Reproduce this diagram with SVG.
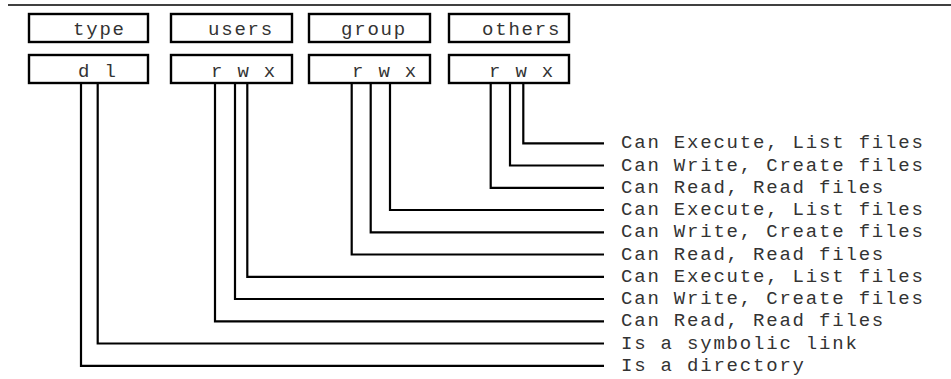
<svg xmlns="http://www.w3.org/2000/svg" width="951" height="379" viewBox="0 0 951 379">
<style>
.box{fill:#fff;stroke:#000;stroke-width:2.4}
.t{font-family:"Liberation Mono","Courier New",monospace;font-size:19px;letter-spacing:1.8px;fill:#333}
.c{fill:none;stroke:#000;stroke-width:2.2}
</style>
<rect width="951" height="379" fill="#fff"/>
<line x1="8" y1="5" x2="951" y2="5" stroke="#000" stroke-width="1.5"/>
<g id="type-head"><rect class="box" x="29" y="14" width="119" height="28"/><text class="t" x="73" y="35">type</text></g>
<g id="users-head"><rect class="box" x="171" y="14" width="121" height="28"/><text class="t" x="208" y="35">users</text></g>
<g id="group-head"><rect class="box" x="309" y="14" width="121" height="28"/><text class="t" x="341" y="35">group</text></g>
<g id="others-head"><rect class="box" x="449" y="14" width="120" height="28"/><text class="t" x="482" y="35">others</text></g>
<g id="type-bits"><rect class="box" x="29" y="55" width="119" height="28"/><text class="t" x="78" y="77">d l</text></g>
<g id="users-bits"><rect class="box" x="171" y="55" width="121" height="28"/><text class="t" x="211" y="77">r w x</text></g>
<g id="group-bits"><rect class="box" x="309" y="55" width="121" height="28"/><text class="t" x="352" y="77">r w x</text></g>
<g id="others-bits"><rect class="box" x="449" y="55" width="120" height="28"/><text class="t" x="489" y="77">r w x</text></g>
<g id="connectors">
<polyline class="c" points="523.3,84 523.3,143.3 604,143.3"/>
<polyline class="c" points="510,84 510,165.5 604,165.5"/>
<polyline class="c" points="490.7,84 490.7,187.8 604,187.8"/>
<polyline class="c" points="390,84 390,210 604,210"/>
<polyline class="c" points="370.7,84 370.7,232.3 604,232.3"/>
<polyline class="c" points="351.7,84 351.7,254.5 604,254.5"/>
<polyline class="c" points="247.3,84 247.3,276.8 604,276.8"/>
<polyline class="c" points="235,84 235,299 604,299"/>
<polyline class="c" points="215,84 215,321.3 604,321.3"/>
<polyline class="c" points="97.7,84 97.7,343.5 604,343.5"/>
<polyline class="c" points="81,84 81,365.8 604,365.8"/>
</g>
<g id="labels">
<text class="t" x="621" y="148.3">Can Execute, List files</text>
<text class="t" x="621" y="170.5">Can Write, Create files</text>
<text class="t" x="621" y="192.8">Can Read, Read files</text>
<text class="t" x="621" y="215">Can Execute, List files</text>
<text class="t" x="621" y="237.3">Can Write, Create files</text>
<text class="t" x="621" y="259.5">Can Read, Read files</text>
<text class="t" x="621" y="281.8">Can Execute, List files</text>
<text class="t" x="621" y="304">Can Write, Create files</text>
<text class="t" x="621" y="326.3">Can Read, Read files</text>
<text class="t" x="621" y="348.5">Is a symbolic link</text>
<text class="t" x="621" y="370.8">Is a directory</text>
</g>
</svg>
